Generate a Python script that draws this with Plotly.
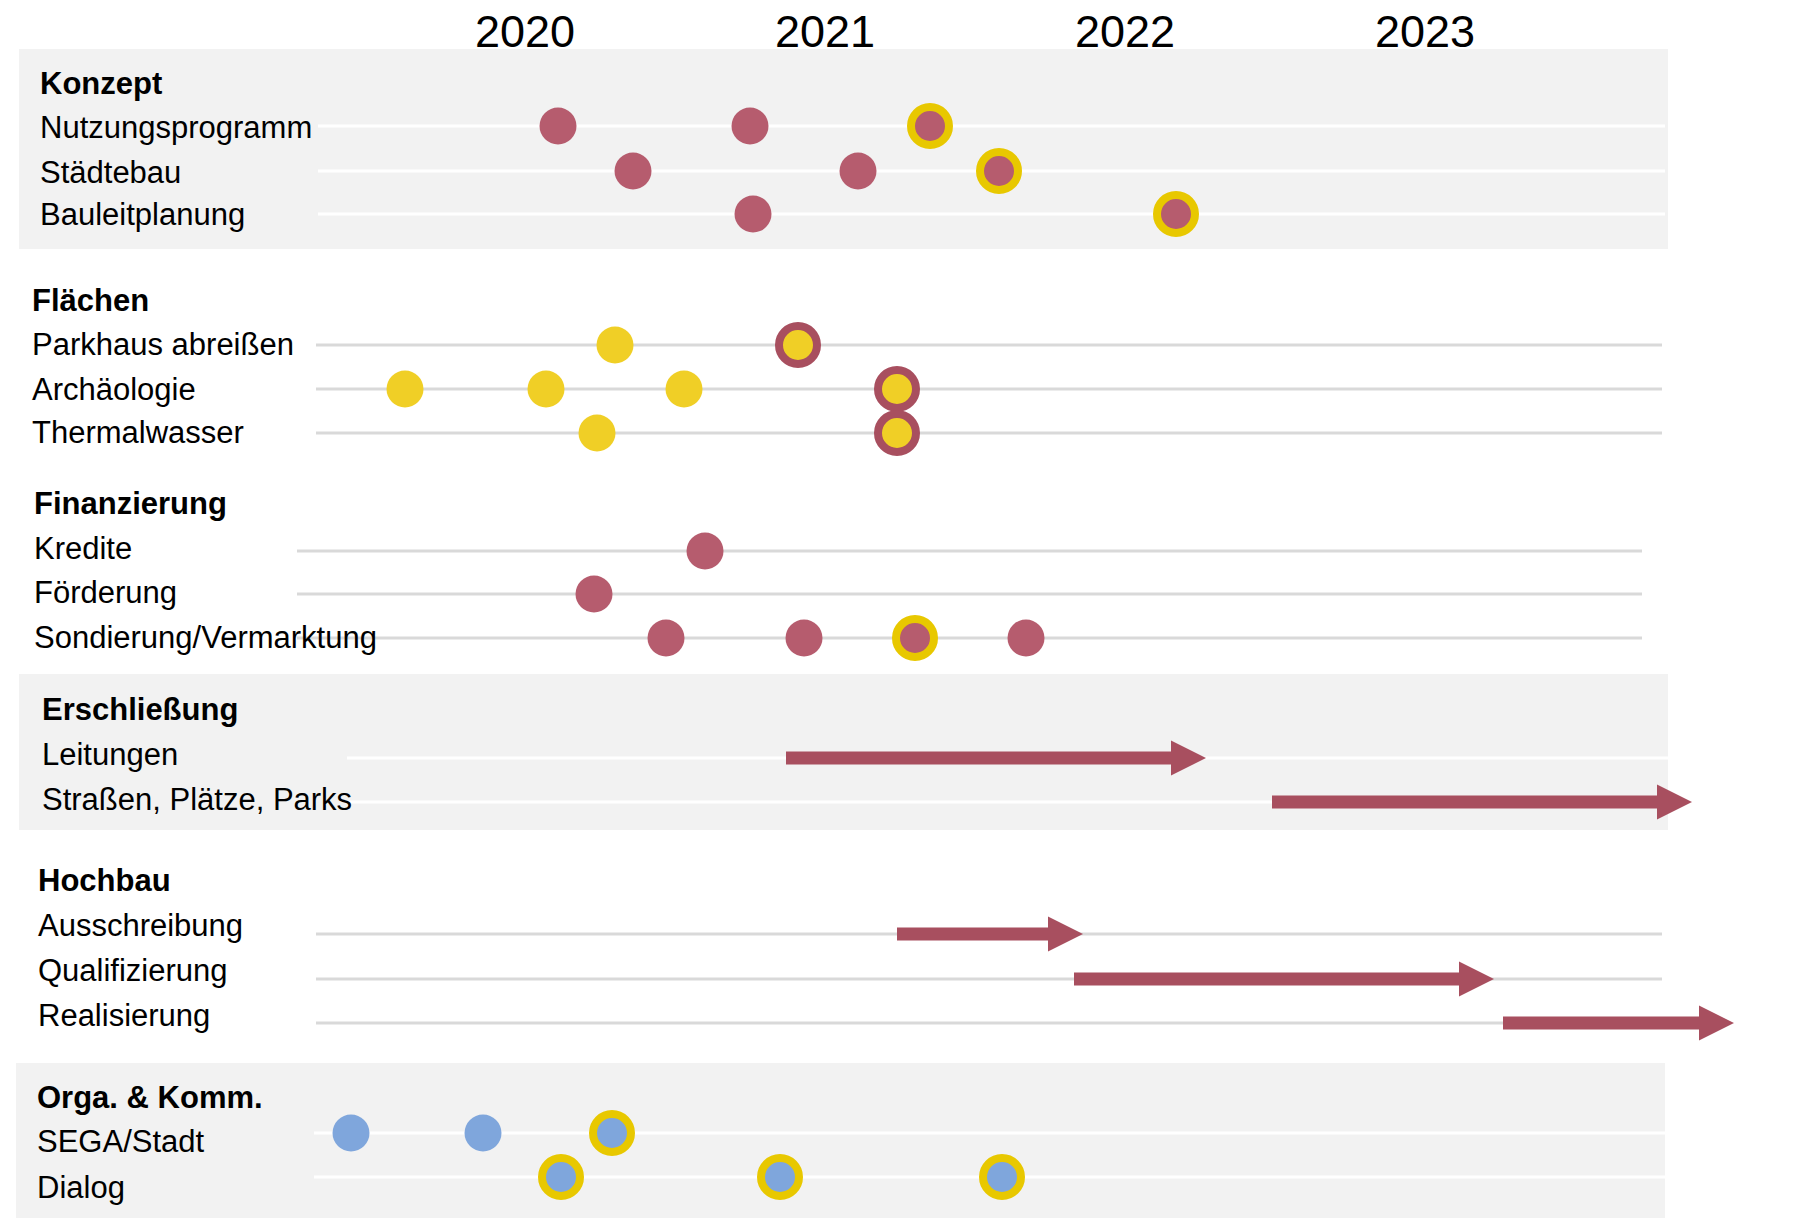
import plotly.graph_objects as go

# ---------------- DATA ----------------
years = [2020, 2021, 2022, 2023]

sections = ["Konzept", "Flächen", "Finanzierung", "Erschließung", "Hochbau", "Orga. & Komm."]
section_rows = {
    "Konzept": ["Nutzungsprogramm", "Städtebau", "Bauleitplanung"],
    "Flächen": ["Parkhaus abreißen", "Archäologie", "Thermalwasser"],
    "Finanzierung": ["Kredite", "Förderung", "Sondierung/Vermarktung"],
    "Erschließung": ["Leitungen", "Straßen, Plätze, Parks"],
    "Hochbau": ["Ausschreibung", "Qualifizierung", "Realisierung"],
    "Orga. & Komm.": ["SEGA/Stadt", "Dialog"],
}

# point events (decimal years); milestone = 1 -> ringed
event_row = [
    "Nutzungsprogramm", "Nutzungsprogramm", "Nutzungsprogramm",
    "Städtebau", "Städtebau", "Städtebau",
    "Bauleitplanung", "Bauleitplanung",
    "Parkhaus abreißen", "Parkhaus abreißen",
    "Archäologie", "Archäologie", "Archäologie", "Archäologie",
    "Thermalwasser", "Thermalwasser",
    "Kredite",
    "Förderung",
    "Sondierung/Vermarktung", "Sondierung/Vermarktung", "Sondierung/Vermarktung", "Sondierung/Vermarktung",
    "SEGA/Stadt", "SEGA/Stadt", "SEGA/Stadt",
    "Dialog", "Dialog", "Dialog",
]
event_date = [
    2020.11, 2020.75, 2021.35,
    2020.36, 2021.11, 2021.58,
    2020.76, 2022.17,
    2020.30, 2020.91,
    2019.60, 2020.07, 2020.53, 2021.24,
    2020.24, 2021.24,
    2020.60,
    2020.23,
    2020.47, 2020.93, 2021.30, 2021.67,
    2019.42, 2019.86, 2020.29,
    2020.12, 2020.85, 2021.59,
]
event_milestone = [
    0, 0, 1,
    0, 0, 1,
    0, 1,
    0, 1,
    0, 0, 0, 1,
    0, 1,
    0,
    0,
    0, 0, 1, 0,
    0, 0, 1,
    1, 1, 1,
]

# duration arrows
arrow_row = ["Leitungen", "Straßen, Plätze, Parks", "Ausschreibung", "Qualifizierung", "Realisierung"]
arrow_start = [2020.87, 2022.49, 2021.24, 2021.83, 2023.26]
arrow_end = [2022.27, 2023.89, 2021.86, 2023.23, 2024.03]

# ---------------- LAYOUT / STYLE ----------------
W, H = 1798, 1223
X0 = 2018.25
PX_PER_YEAR = 300.0
X1 = X0 + W / PX_PER_YEAR

FONT = "Liberation Sans Narrow, Arial Narrow, Liberation Sans, Arial, sans-serif"
LABEL_SIZE = 31
YEAR_SIZE = 45
YEAR_Y = 31
MAROON = "#a84f5f"
DOT_MAROON = "#b65c6e"
YELLOW_RING = "#e8c800"
YELLOW_DOT = "#f0cf26"
BLUE_DOT = "#7fa6dc"
BG_GRAY = "#f2f2f2"
LINE_GRAY = "#d9d9d9"

# vertical layout (pixels from top)
header_y = {"Konzept": 83, "Flächen": 300, "Finanzierung": 503,
            "Erschließung": 709, "Hochbau": 880, "Orga. & Komm.": 1097}
header_x = {"Konzept": 38, "Flächen": 30, "Finanzierung": 32,
            "Erschließung": 40, "Hochbau": 36, "Orga. & Komm.": 35}
row_line_y = {
    "Nutzungsprogramm": 126, "Städtebau": 171, "Bauleitplanung": 214,
    "Parkhaus abreißen": 345, "Archäologie": 389, "Thermalwasser": 433,
    "Kredite": 551, "Förderung": 594, "Sondierung/Vermarktung": 638,
    "Leitungen": 758, "Straßen, Plätze, Parks": 802,
    "Ausschreibung": 934, "Qualifizierung": 979, "Realisierung": 1023,
    "SEGA/Stadt": 1133, "Dialog": 1177,
}
row_label_y = {
    "Nutzungsprogramm": 127, "Städtebau": 172, "Bauleitplanung": 214,
    "Parkhaus abreißen": 344, "Archäologie": 389, "Thermalwasser": 432,
    "Kredite": 548, "Förderung": 592, "Sondierung/Vermarktung": 637,
    "Leitungen": 754, "Straßen, Plätze, Parks": 799,
    "Ausschreibung": 925, "Qualifizierung": 970, "Realisierung": 1015,
    "SEGA/Stadt": 1141, "Dialog": 1187,
}
# section background boxes (px) and row line extents (px)
section_box = {"Konzept": (19, 1668, 49, 249),
               "Erschließung": (19, 1668, 674, 830),
               "Orga. & Komm.": (16, 1665, 1063, 1218)}
section_line = {"Konzept": (318, 1665), "Flächen": (316, 1662), "Finanzierung": (297, 1642),
                "Erschließung": (347, 1668), "Hochbau": (316, 1662), "Orga. & Komm.": (314, 1665)}
section_dot = {"Konzept": (DOT_MAROON, YELLOW_RING), "Flächen": (YELLOW_DOT, MAROON),
               "Finanzierung": (DOT_MAROON, YELLOW_RING), "Orga. & Komm.": (BLUE_DOT, YELLOW_RING)}

row_section = {r: s for s in sections for r in section_rows[s]}

fig = go.Figure()
shapes = []
annotations = []

for s in sections:
    if s in section_box:
        x0, x1, y0, y1 = section_box[s]
        shapes.append(dict(type="rect", xref="paper", yref="y", x0=x0 / W, x1=x1 / W, y0=y0, y1=y1,
                           fillcolor=BG_GRAY, line=dict(width=0), layer="below"))
    lx0, lx1 = section_line[s]
    lc = "white" if s in section_box else LINE_GRAY
    for r in section_rows[s]:
        shapes.append(dict(type="line", xref="paper", yref="y", x0=lx0 / W, x1=lx1 / W,
                           y0=row_line_y[r], y1=row_line_y[r], line=dict(color=lc, width=3), layer="below"))
        annotations.append(dict(text=r, xref="paper", yref="y", x=header_x[s] / W, y=row_label_y[r],
                                xanchor="left", yanchor="middle", showarrow=False,
                                font=dict(family=FONT, size=LABEL_SIZE, color="black")))
    annotations.append(dict(text="<b>" + s + "</b>", xref="paper", yref="y", x=header_x[s] / W,
                            y=header_y[s], xanchor="left", yanchor="middle", showarrow=False,
                            font=dict(family=FONT, size=LABEL_SIZE, color="black")))

# year labels placed on the time axis
for yv in years:
    annotations.append(dict(text=str(yv), xref="x", yref="y", x=yv, y=YEAR_Y,
                            xanchor="center", yanchor="middle", showarrow=False,
                            font=dict(family=FONT, size=YEAR_SIZE, color="black")))

# point events
for s in sections:
    if s not in section_dot:
        continue
    fill, ring = section_dot[s]
    for flag in (0, 1):
        xs = [d for d, r, m in zip(event_date, event_row, event_milestone) if row_section[r] == s and m == flag]
        ys = [row_line_y[r] for d, r, m in zip(event_date, event_row, event_milestone) if row_section[r] == s and m == flag]
        if not xs:
            continue
        fig.add_trace(go.Scatter(
            x=xs, y=ys, mode="markers", hoverinfo="skip", showlegend=False,
            marker=dict(color=fill, size=38 if flag else 37,
                        line=dict(color=ring, width=8 if flag else 0))))

# arrows (shaft + head polygon built from start/end dates)
HEAD_LEN = 35 / PX_PER_YEAR
SHAFT_H = 6.5
HEAD_H = 17.5
for r, a, b in zip(arrow_row, arrow_start, arrow_end):
    y = row_line_y[r]
    base = b - HEAD_LEN
    px = [a, base, base, b, base, base, a, a]
    py = [y - SHAFT_H, y - SHAFT_H, y - HEAD_H, y, y + HEAD_H, y + SHAFT_H, y + SHAFT_H, y - SHAFT_H]
    fig.add_trace(go.Scatter(x=px, y=py, mode="lines", fill="toself", fillcolor=MAROON,
                             line=dict(width=0, color=MAROON), hoverinfo="skip", showlegend=False))

fig.update_layout(
    width=W, height=H, margin=dict(l=0, r=0, t=0, b=0, pad=0),
    paper_bgcolor="white", plot_bgcolor="white",
    shapes=shapes, annotations=annotations,
    xaxis=dict(range=[X0, X1], visible=False, showgrid=False, zeroline=False,
               automargin=False, fixedrange=True),
    yaxis=dict(range=[H, 0], visible=False, fixedrange=True, automargin=False),
)

fig.write_html("out.html", config={"displayModeBar": False},
               post_script="document.body.style.margin='0';")
